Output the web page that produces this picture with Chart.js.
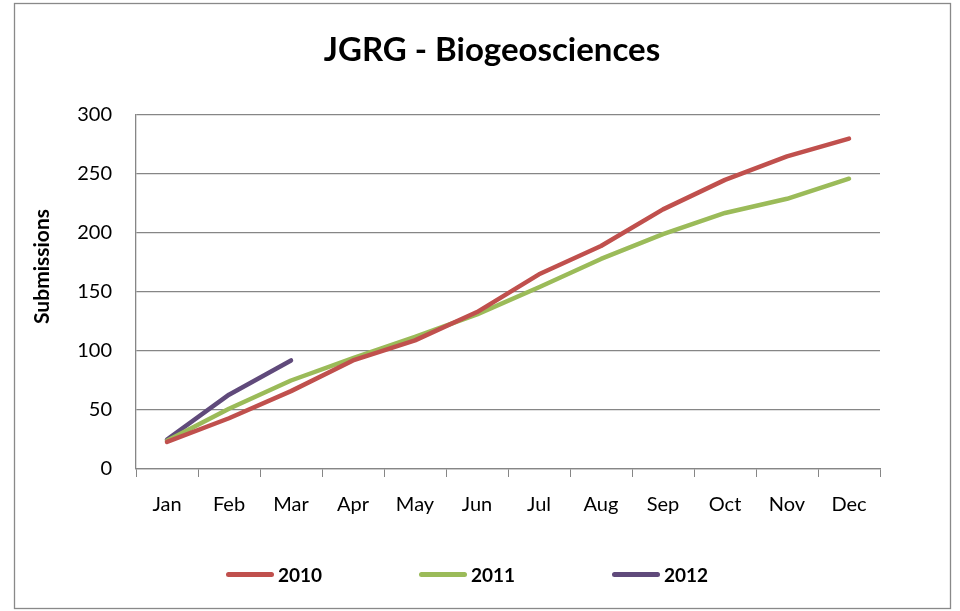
<!DOCTYPE html>
<html>
<head>
<meta charset="utf-8">
<script src="https://cdn.jsdelivr.net/npm/chart.js@4"></script>
<style>
    html, body { margin:0; padding:0; background:#fff; }
    #wrap { position:relative; width:960px; height:611px; }
    #legend { position:absolute; left:226px; top:562px; display:flex; font-family:Lato, "Open Sans", sans-serif; font-weight:bold; font-size:19px; color:#000; }
    .leg-item { display:flex; align-items:center; width:193px; height:24px; }
    .leg-swatch { width:48px; height:5px; border-radius:3px; margin-right:4px; }
</style>
</head>
<body>
<div id="wrap">
    <canvas id="chart" width="960" height="611"></canvas>
    <div id="legend"></div>
</div>
<script>
(function() {
    'use strict';

    const months = ['Jan','Feb','Mar','Apr','May','Jun','Jul','Aug','Sep','Oct','Nov','Dec'];
    const seriesNames = ['2010','2011','2012'];
    const values2010 = [23, 43, 66, 92, 109, 133, 165, 189, 220, 245, 265, 280];
    const values2011 = [24, 51, 75, 94, 112, 131, 154, 178, 199, 217, 229, 246];
    const values2012 = [25, 63, 92];
    const yTicks = [0, 50, 100, 150, 200, 250, 300];

    const colors = ['#C0504D', '#9BBB59', '#604A7B'];
    const grey = '#868686';
    const font = 'Lato, "Open Sans", sans-serif';

    function line(label, data, color) {
        return {
            label, data,
            borderColor: color, backgroundColor: color,
            borderWidth: 4.5, pointRadius: 0, tension: 0,
            borderCapStyle: 'round', borderJoinStyle: 'round', fill: false
        };
    }

    // outer frame like the Excel chart area
    const framePlugin = {
        id: 'frame',
        afterDraw(chart) {
            const ctx = chart.ctx;
            ctx.save();
            ctx.strokeStyle = '#898989';
            ctx.lineWidth = 1.3;
            ctx.strokeRect(14.5, 3.5, 936, 605);
            ctx.restore();
        }
    };

    const chart = new Chart(document.getElementById('chart'), {
        type: 'line',
        data: {
            labels: months,
            datasets: [
                line(seriesNames[0], values2010, colors[0]),
                line(seriesNames[1], values2011, colors[1]),
                line(seriesNames[2], values2012, colors[2])
            ]
        },
        options: {
            responsive: false, animation: false,
            layout: { padding: { left: 30, right: 6, top: 4, bottom: 0 } },
            plugins: {
                legend: { display: false },
                tooltip: { enabled: false },
                title: {
                    display: true, text: 'JGRG - Biogeosciences', color: '#000',
                    font: { family: font, size: 33, weight: 'bold' },
                    padding: { top: 27, bottom: 44.4 }
                }
            },
            scales: {
                x: {
                    offset: true,
                    grid: { display: true, drawOnChartArea: false, drawTicks: true, tickLength: 8, offset: true, color: grey },
                    border: { color: grey, width: 1.3 },
                    ticks: { color: '#000', font: { family: font, size: 20 }, padding: 16, maxRotation: 0 },
                    afterFit: s => { s.height = 142; }
                },
                y: {
                    min: 0, max: 300,
                    afterBuildTicks: s => { s.ticks = yTicks.map(v => ({ value: v })); },
                    grid: { color: grey, lineWidth: 1.3, drawTicks: false },
                    border: { color: grey, width: 1.3 },
                    ticks: { color: '#000', font: { family: font, size: 20 }, padding: 24 },
                    title: {
                        display: true, text: '          Submissions', color: '#000',
                        font: { family: font, size: 21, weight: 'bold' }, padding: 0
                    },
                    afterFit: s => { s.width = 106; }
                },
                // empty right axis, only keeps the plot narrower than the title box
                yRight: {
                    position: 'right', min: 0, max: 300,
                    grid: { display: false }, border: { display: false },
                    ticks: { display: false },
                    afterFit: s => { s.width = 74; }
                }
            }
        },
        plugins: [framePlugin]
    });

    const legend = document.getElementById('legend');
    chart.data.datasets.forEach(ds => {
        const item = document.createElement('div');
        item.className = 'leg-item';
        item.innerHTML = '<span class="leg-swatch" style="background:' + ds.borderColor + '"></span><span>' + ds.label + '</span>';
        legend.appendChild(item);
    });
})();
</script>
</body>
</html>
